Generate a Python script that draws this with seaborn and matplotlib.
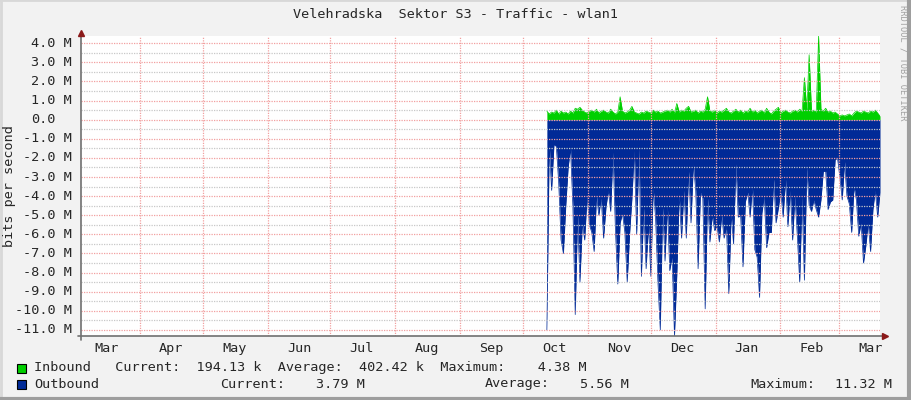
import numpy as np
import pandas as pd
import matplotlib
matplotlib.use("Agg")
import matplotlib.pyplot as plt
import matplotlib.dates as mdates
from matplotlib.lines import Line2D
from matplotlib.patches import Rectangle
from matplotlib.ticker import MultipleLocator, NullFormatter
from matplotlib.transforms import blended_transform_factory
import seaborn as sns

# --- chart data (values in Mbit/s) ---
title = "Velehradska  Sektor S3 - Traffic - wlan1"

inbound = [
    0.45, 0.30, 0.40, 0.35, 0.50, 0.30, 0.45, 0.35, 0.40, 0.30,
    0.45, 0.35, 0.60, 0.55, 0.65, 0.50, 0.40, 0.35, 0.45, 0.50,
    0.40, 0.55, 0.35, 0.45, 0.50, 0.40, 0.35, 0.55, 0.40, 0.30,
    0.40, 1.20, 0.45, 0.35, 0.40, 0.50, 0.70, 0.40, 0.35, 0.30,
    0.40, 0.35, 0.45, 0.40, 0.35, 0.50, 0.40, 0.45, 0.35, 0.40,
    0.45, 0.50, 0.40, 0.55, 0.35, 0.85, 0.40, 0.50, 0.45, 0.60,
    0.70, 0.40, 0.45, 0.50, 0.35, 0.45, 0.40, 0.55, 1.20, 0.45,
    0.40, 0.50, 0.35, 0.45, 0.40, 0.50, 0.60, 0.40, 0.35, 0.45,
    0.55, 0.40, 0.50, 0.35, 0.45, 0.40, 0.60, 0.40, 0.50, 0.35,
    0.45, 0.50, 0.35, 0.60, 0.40, 0.30, 0.45, 0.55, 0.65, 0.35,
    0.45, 0.50, 0.40, 0.35, 0.45, 0.50, 0.40, 0.55, 0.45, 2.20,
    0.50, 3.40, 0.45, 0.50, 0.40, 4.38, 0.55, 0.45, 0.60, 0.40,
    0.45, 0.35, 0.40, 0.30, 0.20, 0.25, 0.20, 0.25, 0.30, 0.20,
    0.35, 0.45, 0.40, 0.35, 0.45, 0.40, 0.35, 0.45, 0.40, 0.50, 0.35, 0.19,
]

outbound = [
    11.0, 1.3, 3.7, 1.3, 1.4, 3.3, 6.3, 7.0, 4.5, 2.5,
    1.5, 4.5, 10.2, 5.0, 8.5, 5.4, 6.3, 4.0, 5.5, 5.9,
    6.9, 4.0, 5.0, 4.1, 6.2, 4.6, 3.7, 4.8, 1.7, 5.7,
    8.6, 5.4, 4.9, 5.9, 8.5, 6.0, 4.1, 1.6, 6.0, 1.5,
    8.2, 4.6,
    7.8, 5.5, 8.2, 3.6, 5.1, 8.5, 11.0, 4.6, 7.4, 4.5,
    7.9, 7.2, 11.32, 8.1, 3.9, 6.2, 3.7, 6.2, 2.7, 5.4,
    2.3, 3.7, 7.8, 3.8, 4.1, 9.9, 4.1, 6.4, 5.0, 5.8,
    5.6, 6.4, 5.0, 6.2, 5.6, 9.1, 4.9, 6.5, 2.3, 5.1,
    5.0, 7.7, 4.3, 3.8, 5.1,
    3.5, 6.8, 7.2, 9.3, 4.9, 4.0, 6.7, 5.9, 5.9, 3.1,
    5.4, 4.6, 3.8, 5.1, 3.1, 5.6, 3.7, 6.3, 4.0, 6.1,
    8.5, 4.0, 8.4, 2.5, 4.5, 4.8, 4.2, 4.7, 5.1, 4.2,
    2.7, 2.7, 4.7, 4.3, 4.2, 2.1, 2.0, 3.0, 4.2, 2.2,
    4.0, 4.4, 5.9, 3.5, 4.2, 6.1, 5.4, 7.5, 6.6, 5.4,
    6.9, 4.7, 3.7, 5.1, 3.79,
]

data_start = "2014-10-12 10:00"
data_end = "2015-03-20 14:00"
view_start = "2014-03-03 20:00"

# legend rows: colour, then (text, x pixel) pieces as rrdtool justified them
legend_rows = [
    ("#00CF00", [("Inbound   Current:  194.13 k  Average:  402.42 k  Maximum:    4.38 M", 34)]),
    ("#002A97", [("Outbound", 34), ("Current:", 220), ("3.79 M", 316),
                 ("Average:", 485), ("5.56 M", 580), ("Maximum:", 750), ("11.32 M", 835)]),
]

GREEN = "#00CF00"
BLUE = "#002A97"
MGRID = "#F2A0A0"
GRID = "#C8C8C8"
AXIS = "#707070"
ARROW = "#8B1A1A"

sns.set_style("white")
plt.rcParams["font.family"] = ["DejaVu Sans Mono", "DejaVu Sans"]
FS = 9.7
CHAR = 8.09  # mono advance in px at FS

fig = plt.figure(figsize=(9.11, 4.0), dpi=100, facecolor="#F2F2F2")
ax = fig.add_axes([81 / 911, 64 / 400, 799 / 911, 300 / 400])
ax.set_facecolor("white")

df_in = pd.DataFrame({"time": pd.date_range(data_start, data_end, periods=len(inbound)),
                      "bps": np.array(inbound)})
df_out = pd.DataFrame({"time": pd.date_range(data_start, data_end, periods=len(outbound)),
                       "bps": -np.array(outbound)})

ax.fill_between(df_in["time"], 0, df_in["bps"], color=GREEN, lw=0, zorder=1)
ax.fill_between(df_out["time"], 0, df_out["bps"], color=BLUE, lw=0, zorder=1)
sns.lineplot(data=df_in, x="time", y="bps", color=GREEN, linewidth=0.5, ax=ax, zorder=1.2)
sns.lineplot(data=df_out, x="time", y="bps", color=BLUE, linewidth=0.5, ax=ax, zorder=1.2)

ax.set_xlim(pd.Timestamp(view_start), pd.Timestamp(data_end))
ax.set_ylim(-11.32, 4.38)
ax.set_xlabel("")
ax.set_ylabel("")

# grid like rrdtool: red dotted major, grey dotted minor, on top of data
ax.set_axisbelow(False)
ax.yaxis.set_major_locator(MultipleLocator(1))
ax.yaxis.set_minor_locator(MultipleLocator(0.5))
ax.xaxis.set_major_locator(mdates.MonthLocator(bymonthday=1))
ax.xaxis.set_minor_locator(mdates.MonthLocator(bymonthday=16))
ax.xaxis.set_major_formatter(NullFormatter())
ax.xaxis.set_minor_formatter(mdates.DateFormatter("%b"))

ax.grid(which="major", axis="both", color=MGRID, ls=(0, (1, 1)), lw=0.9)
ax.grid(which="minor", axis="y", color=GRID, ls=(0, (1, 1)), lw=0.9)
ax.tick_params(axis="y", which="major", length=3, direction="inout", color=MGRID,
               labelleft=False)
ax.tick_params(axis="y", which="minor", length=2, direction="inout", color=GRID)
ax.tick_params(axis="x", which="major", length=5, direction="inout", color=MGRID)
ax.tick_params(axis="x", which="minor", length=0, labelsize=FS, pad=4)
for s in ax.spines.values():
    s.set_visible(False)

# y labels in rrdtool fixed-width layout ("0.0" keeps the room of " M")
ylab_tr = blended_transform_factory(fig.transFigure, ax.transData)
lo, hi = ax.get_ylim()
for v in ax.get_yticks():
    if lo <= v <= hi:
        if abs(v) < 1e-9:
            txt, right = "0.0", 72 - 2 * CHAR
        else:
            txt, right = f"{v:.1f} M", 72
        ax.text(right / 911, v, txt, transform=ylab_tr, ha="right", va="center",
                fontsize=FS, clip_on=False)

# axes with arrows
ax.plot([0, 0], [-0.012, 1.0], transform=ax.transAxes, color=AXIS, lw=1.2,
        clip_on=False, zorder=5)
ax.plot([-0.004, 1.004], [0, 0], transform=ax.transAxes, color=AXIS, lw=1.2,
        clip_on=False, zorder=5)
ax.plot([0], [1.01], marker="^", ms=5, color=ARROW, transform=ax.transAxes,
        clip_on=False, zorder=6)
ax.plot([1.006], [0], marker=">", ms=5, color=ARROW, transform=ax.transAxes,
        clip_on=False, zorder=6)

fig.text(0.5, 1 - 15 / 400, title, ha="center", va="center", fontsize=FS)
fig.text(10 / 911, 1 - 186 / 400, "bits per second", rotation=90,
         ha="center", va="center", fontsize=FS)
fig.text(903 / 911, 1 - 5 / 400, "RRDTOOL / TOBI OETIKER", rotation=-90,
         ha="center", va="top", fontsize=6.2, color="#A0A0A0")

for i, (col, pieces) in enumerate(legend_rows):
    yc = 368 + 16 * i
    fig.patches.append(Rectangle((17 / 911, 1 - (yc + 4.5) / 400), 9 / 911, 9 / 400,
                                 transform=fig.transFigure, facecolor=col,
                                 edgecolor="black", lw=0.8))
    for txt, xpx in pieces:
        fig.text(xpx / 911, 1 - yc / 400, txt, ha="left", va="center", fontsize=FS)

# rrdtool style frame
fig.add_artist(Line2D([0, 1], [0.999, 0.999], transform=fig.transFigure, color="#D8D8D8", lw=2))
fig.add_artist(Line2D([0.001, 0.001], [0, 1], transform=fig.transFigure, color="#D8D8D8", lw=2))
fig.add_artist(Line2D([0, 1], [0.002, 0.002], transform=fig.transFigure, color="#9E9E9E", lw=3))
fig.add_artist(Line2D([0.998, 0.998], [0, 1], transform=fig.transFigure, color="#9E9E9E", lw=3))

fig.savefig("out.png", dpi=100, facecolor=fig.get_facecolor())
